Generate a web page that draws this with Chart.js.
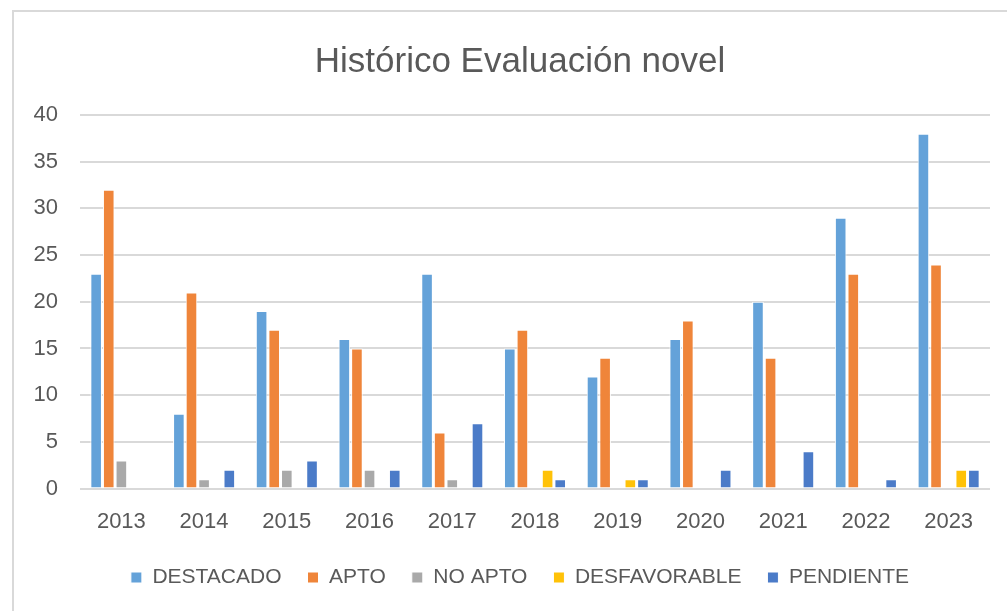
<!DOCTYPE html>
<html>
<head>
<meta charset="utf-8">
<script src="https://cdn.jsdelivr.net/npm/chart.js@4"></script>
<style>
  html, body { margin: 0; padding: 0; background: #fff; overflow: hidden; }
  #frame {
    position: absolute; left: 12px; top: 10px; width: 1010px; height: 620px;
    border: 2px solid #d9d9d9; box-sizing: border-box;
  }
  #wrap { position: absolute; left: 14px; top: 12px; width: 993px; height: 599px; }
</style>
</head>
<body>
<div id="frame"></div>
<div id="wrap"><canvas id="myChart"></canvas></div>
<script>
(() => {
  'use strict'

  const years = ['2013', '2014', '2015', '2016', '2017', '2018', '2019', '2020', '2021', '2022', '2023']
  const destacado = [23, 8, 19, 16, 23, 15, 12, 16, 20, 29, 38]
  const apto = [32, 21, 17, 15, 6, 17, 14, 18, 14, 23, 24]
  const noApto = [3, 1, 2, 2, 1, 0, 0, 0, 0, 0, 0]
  const desfavorable = [0, 0, 0, 0, 0, 2, 1, 0, 0, 0, 2]
  const pendiente = [0, 2, 3, 2, 7, 1, 1, 2, 4, 1, 2]

  const font = "'Liberation Sans', sans-serif"
  const grey = '#595959'

  const mk = (label, data, color) => ({
    label: label,
    data: data,
    backgroundColor: color,
    borderColor: '#ffffff',
    borderWidth: 1,
    categoryPercentage: 0.762,
    barPercentage: 0.92
  })

  const ctx = document.getElementById('myChart')
  // eslint-disable-next-line no-unused-vars
  const myChart = new Chart(ctx, {
    type: 'bar',
    data: {
      labels: years,
      datasets: [
        mk('DESTACADO', destacado, '#64A2D9'),
        mk('APTO', apto, '#EF853A'),
        mk('NO APTO', noApto, '#A9A9A9'),
        mk('DESFAVORABLE', desfavorable, '#FFC208'),
        mk('PENDIENTE', pendiente, '#4B7BC8')
      ]
    },
    options: {
      responsive: true,
      maintainAspectRatio: false,
      animation: false,
      layout: { padding: { left: 36, right: 17, top: 0, bottom: 13 } },
      scales: {
        x: {
          grid: { display: false, drawTicks: false },
          border: { display: false },
          ticks: { color: grey, font: { family: font, size: 22 }, padding: 20, maxRotation: 0 },
          // fixed axis band so the legend sits where it does in the original
          afterFit: (scale) => { scale.height = 52.5 }
        },
        y: {
          min: 0,
          max: 40,
          // mirrored so the labels are not clipped to the narrow axis box,
          // then pulled back left of the plot with a negative padding
          ticks: {
            stepSize: 5, color: grey, font: { family: font, size: 22 },
            mirror: true, crossAlign: 'far', padding: -46.5
          },
          grid: { color: '#d9d9d9', lineWidth: 2, drawTicks: false },
          border: { display: false },
          afterFit: (scale) => { scale.width = 30 }
        }
      },
      plugins: {
        title: {
          display: true,
          text: 'Histórico Evaluación novel',
          color: grey,
          font: { family: font, size: 35, weight: 'normal' },
          padding: { top: 29, bottom: 32 }
        },
        legend: {
          position: 'bottom',
          labels: {
            color: grey,
            font: { family: font, size: 21 },
            boxWidth: 11,
            boxHeight: 11,
            padding: 26
          }
        },
        tooltip: { boxPadding: 3 }
      }
    }
  })
})()
</script>
</body>
</html>
